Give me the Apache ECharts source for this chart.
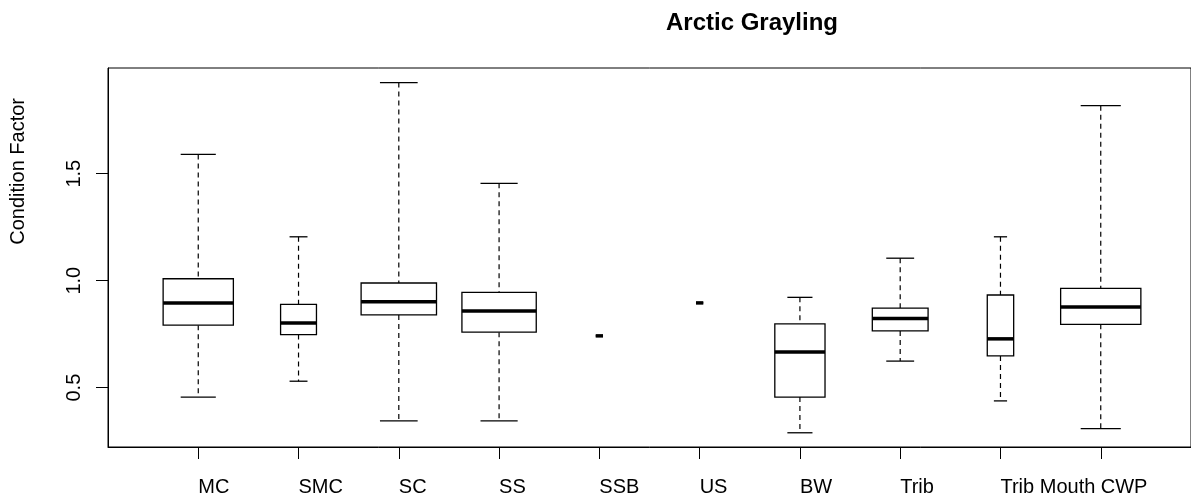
<!DOCTYPE html>
<html lang="en">
<head>
<meta charset="UTF-8">
<title>Arctic Grayling</title>
<script src="https://cdn.jsdelivr.net/npm/echarts@6/dist/echarts.min.js"></script>
<style>html,body{margin:0;padding:0;background:#fff}</style>
</head>
<body>
<div id="container" style="width:1191px;height:504px"></div>
<script type="text/javascript">
// boxplot stats (condition factor per site)
var sites        = ['MC', 'SMC', 'SC', 'SS', 'SSB', 'US', 'BW', 'Trib', 'Trib Mouth', 'CWP'];
var lowerWhisker = [0.456, 0.530, 0.345, 0.345, 0.742, 0.896, 0.289, 0.624, 0.438, 0.308];
var lowerQuart   = [0.792, 0.748, 0.840, 0.759, 0.742, 0.896, 0.456, 0.765, 0.648, 0.796];
var medians      = [0.896, 0.802, 0.902, 0.858, 0.742, 0.896, 0.667, 0.823, 0.728, 0.877];
var upperQuart   = [1.009, 0.889, 0.989, 0.945, 0.742, 0.896, 0.798, 0.872, 0.933, 0.964];
var upperWhisker = [1.590, 1.205, 1.926, 1.455, 0.742, 0.896, 0.922, 1.105, 1.205, 1.818];
// sample sizes guessed from box widths (varwidth)
var fishCount    = [92, 24, 106, 103, 1, 1, 47, 58, 13, 120];
var yTicks = [0.5, 1.0, 1.5];

var dom = document.getElementById('container');
var myChart = echarts.init(dom);
var font = '"Liberation Sans", Arial, Helvetica, sans-serif';

var maxN = Math.max.apply(null, fishCount);
var boxData = [];
for (var i = 0; i < sites.length; i++) {
    boxData.push([i + 1, lowerWhisker[i], lowerQuart[i], medians[i], upperQuart[i], upperWhisker[i],
        0.8 * Math.sqrt(fishCount[i] / maxN)]);
}

function renderBox(params, api) {
    var x = api.value(0);
    var half = api.size([api.value(6), 0])[0] / 2;
    var lo = api.coord([x, api.value(1)]);
    var b1 = api.coord([x, api.value(2)]);
    var md = api.coord([x, api.value(3)]);
    var b3 = api.coord([x, api.value(4)]);
    var hi = api.coord([x, api.value(5)]);
    var cx = lo[0];
    var dashed = {stroke: '#000', lineWidth: 1.2, lineDash: [5, 4]};
    var solid = {stroke: '#000', lineWidth: 1.3};
    return {
        type: 'group',
        children: [
            {type: 'line', shape: {x1: cx, y1: hi[1], x2: cx, y2: b3[1]}, style: dashed},
            {type: 'line', shape: {x1: cx, y1: b1[1], x2: cx, y2: lo[1]}, style: dashed},
            {type: 'line', shape: {x1: cx - half / 2, y1: hi[1], x2: cx + half / 2, y2: hi[1]}, style: solid},
            {type: 'line', shape: {x1: cx - half / 2, y1: lo[1], x2: cx + half / 2, y2: lo[1]}, style: solid},
            {type: 'rect', shape: {x: cx - half, y: b3[1], width: half * 2, height: b1[1] - b3[1]},
                style: {fill: '#fff', stroke: '#000', lineWidth: 1.3}},
            {type: 'line', shape: {x1: cx - half, y1: md[1], x2: cx + half, y2: md[1]},
                style: {stroke: '#000', lineWidth: 3.5}}
        ]
    };
}

var option = {
    animation: false,
    backgroundColor: '#fff',
    textStyle: {fontFamily: font},
    title: {
        text: 'Arctic Grayling',
        left: 747, top: 6,
        textAlign: 'center',
        textStyle: {fontFamily: font, fontSize: 24, fontWeight: 'bold', color: '#000'}
    },
    graphic: [{
        type: 'text',
        left: 8, top: 98,
        rotation: Math.PI / 2,
        style: {text: 'Condition Factor', font: '20px ' + font, fill: '#000'}
    }],
    grid: {left: 108, top: 68, width: 1090, height: 379, show: true, borderColor: '#000', borderWidth: 1},
    xAxis: {
        type: 'value', min: 0.1, max: 10.9,
        splitLine: {show: false},
        axisLine: {show: true, lineStyle: {color: '#000', width: 1}},
        axisTick: {show: true, length: 12, customValues: [1, 2, 3, 4, 5, 6, 7, 8, 9, 10],
            lineStyle: {color: '#000', width: 1}},
        axisLabel: {
            customValues: [1, 2, 3, 4, 5, 6, 7, 8, 9, 10],
            formatter: function (v) { return sites[Math.round(v) - 1]; },
            align: 'left', margin: 30, fontSize: 20, color: '#000', fontFamily: font
        }
    },
    yAxis: {
        type: 'value', min: 0.2225, max: 1.994,
        splitLine: {show: false},
        axisLine: {show: true, lineStyle: {color: '#000', width: 1}},
        axisTick: {show: true, length: 12, customValues: yTicks, lineStyle: {color: '#000', width: 1}},
        axisLabel: {
            customValues: yTicks,
            formatter: function (v) { return v.toFixed(1); },
            rotate: 90, margin: 24, fontSize: 20, color: '#000', fontFamily: font
        }
    },
    series: [{
        type: 'custom',
        renderItem: renderBox,
        encode: {x: 0, y: [1, 2, 3, 4, 5]},
        data: boxData
    }]
};

myChart.setOption(option);
</script>
</body>
</html>
